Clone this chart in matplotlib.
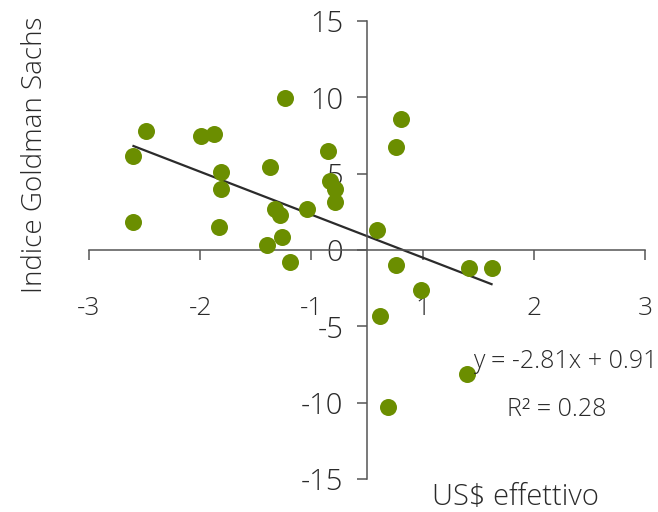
import matplotlib.pyplot as plt
import numpy as np

plt.rcParams['font.family'] = ['Open Sans', 'DejaVu Sans']
plt.rcParams['font.weight'] = 'light'
plt.rcParams['axes.unicode_minus'] = False

# US$ effettivo (x) vs Indice Goldman Sachs (y)
usd_eff = [-1.99, -2.10, -2.10, -1.49, -1.38, -1.31, -1.31, -1.33, -0.74, -0.875,
           -0.83, -0.785, -0.76, -0.90, -0.695, -0.54, -0.35, -0.33, -0.285, -0.285,
           0.09, 0.31, 0.26, 0.26, 0.49, 0.92, 1.12, 0.12, 0.90, 0.19]
goldman = [7.79, 6.14, 1.83, 7.47, 7.62, 5.13, 3.98, 1.51, 9.93, 5.44,
           2.67, 2.29, 0.83, 0.35, -0.81, 2.67, 6.46, 4.50, 3.99, 3.14,
           1.33, 8.60, 6.76, -0.98, -2.64, -1.18, -1.18, -4.32, -8.10, -10.26]

slope = -2.81
intercept = 0.91
r2 = 0.28

# excel axis -2.5..2.5 with integer number format -> labels rounded
xticks = [-2.5, -1.5, -0.5, 0.5, 1.5, 2.5]
xticklabels = ['-3', '-2', '-1', '1', '2', '3']
yticks = [-15, -10, -5, 0, 5, 10, 15]

green = '#6b8e00'
txt = '#2a2a2a'

fig = plt.figure(figsize=(6.58, 5.12), dpi=100)
ax = fig.add_axes([89/658, 33/512, 556/658, 458/512])

ax.scatter(usd_eff, goldman, s=150, color=green, zorder=3, linewidths=0)

xs = np.array([min(usd_eff), max(usd_eff)])
ax.plot(xs, slope*xs + intercept, color='#2b2b2b', lw=1.6, zorder=2)

ax.set_xlim(-2.5, 2.5)
ax.set_ylim(-15, 15)
ax.spines['left'].set_position(('data', 0))
ax.spines['bottom'].set_position(('data', 0))
ax.spines['top'].set_visible(False)
ax.spines['right'].set_visible(False)
for s in ['left', 'bottom']:
    ax.spines[s].set_color('#555555')
    ax.spines[s].set_linewidth(1.1)

ax.set_xticks(xticks)
ax.set_xticklabels(xticklabels)
ax.set_yticks(yticks)
ax.tick_params(axis='x', direction='out', length=7, width=1.1, color='#555555',
               labelsize=19, labelcolor=txt, pad=26)
ax.tick_params(axis='y', direction='out', length=7, width=1.1, color='#555555',
               labelsize=21, labelcolor=txt, pad=10)

ax.text(1.78, -7.33, 'y = -2.81x + 0.91', fontsize=18, color=txt, ha='center', va='center')
ax.text(1.71, -10.48, 'R² = 0.28', fontsize=18, color=txt, ha='center', va='center')

fig.text(515/658, 1 - 497/512, 'US$ effettivo', fontsize=21, color=txt, ha='center', va='center')
fig.text(35/658, 1 - 155/512, 'Indice Goldman Sachs', fontsize=20, color=txt,
         ha='center', va='center', rotation=90)

fig.savefig('out.png', dpi=100)
